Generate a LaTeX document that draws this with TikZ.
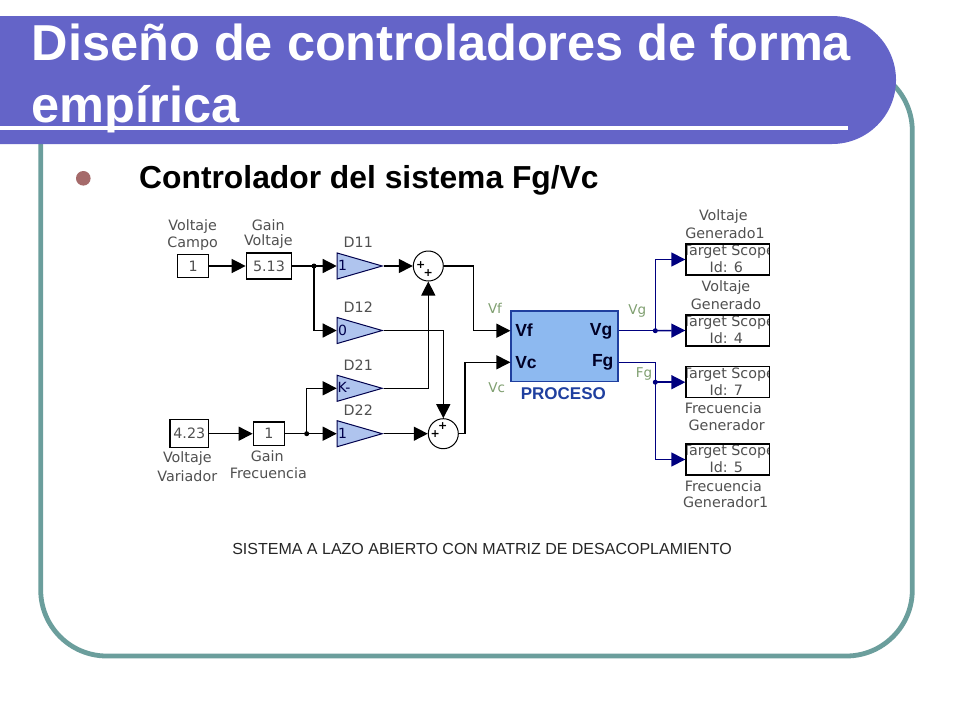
\documentclass[tikz,border=0pt]{standalone}
\usepackage{fontspec}
\setmainfont{Liberation Sans}
\newfontfamily\lblfont{DejaVu Sans}
\usetikzlibrary{arrows.meta,shapes.geometric}
\definecolor{band}{HTML}{6464C8}
\definecolor{frameteal}{HTML}{6B9E9C}
\definecolor{bulletc}{HTML}{A56A6A}
\definecolor{lblgray}{HTML}{505050}
\definecolor{lblgreen}{HTML}{7F9F70}
\definecolor{procfill}{HTML}{8DB9F0}
\definecolor{procline}{HTML}{1F3F9F}
\definecolor{navyline}{HTML}{00007F}
\definecolor{gainfill}{HTML}{AFC4EE}
\tikzset{
  lbl/.style={font=\lblfont\fontsize{14.3}{14}\selectfont,text=lblgray,inner sep=0pt},
  lblg/.style={font=\lblfont\fontsize{13.5}{14}\selectfont,text=lblgreen,inner sep=0pt},
  blockbox/.style={draw=black,line width=1.3pt,fill=white,inner sep=0pt,font=\lblfont\fontsize{14.3}{14}\selectfont,text=lblgray},
  gaintri/.style={draw=black!70!blue,line width=1pt,fill=gainfill,isosceles triangle,isosceles triangle stretches,minimum width=26pt,minimum height=45pt,inner sep=0pt,anchor=lower side},
  gainval/.style={font=\lblfont\fontsize{14}{14}\selectfont,text=black!70!blue,inner sep=0pt},
  sumnode/.style={draw=black,line width=1pt,fill=white,circle,minimum size=30pt,inner sep=0pt},
  sign/.style={font=\lblfont\bfseries\fontsize{11}{11}\selectfont,inner sep=0pt},
  wire/.style={line width=1.4pt,draw=black,-{Triangle[length=14pt,width=14pt]}},
  wireplain/.style={line width=1.4pt,draw=black},
  nwire/.style={line width=1.5pt,draw=navyline,-{Triangle[length=14pt,width=14pt]}},
  nwireplain/.style={line width=1.5pt,draw=navyline},
  dotk/.style={circle,fill=black,minimum size=5pt,inner sep=0pt},
  dotn/.style={circle,fill=navyline,minimum size=5pt,inner sep=0pt},
  portlbl/.style={font=\bfseries\fontsize{17.5}{18}\selectfont,text=black!85!blue,inner sep=0pt},
  scopebox/.style={draw=black,line width=1.3pt,fill=white,minimum width=83.7pt,minimum height=31pt,inner sep=0pt},
}
\newcommand{\scopetext}[1]{\node[lbl,anchor=center] at ([yshift=7.5pt,xshift=1pt]path picture bounding box.center) {Target Scope};\node[lbl,anchor=center] at ([yshift=-8pt,xshift=-1.5pt]path picture bounding box.center) {Id: #1};}
\begin{document}
\begin{tikzpicture}[x=1pt,y=-1pt]
\useasboundingbox (0,0) rectangle (960,720);
\fill[white] (0,0) rectangle (960,720);
% frame
\draw[frameteal,line width=4.8pt,rounded corners=66pt] (40.7,65) rectangle (912.3,656);
% title band
\fill[band] (0,16) -- (832,16) arc[start angle=90,end angle=-90,radius=64pt] -- (0,144) -- cycle;
\node[anchor=base west,inner sep=0pt,text=white,font=\bfseries\fontsize{50.5}{52}\selectfont] (t1) at (31.5,60.5) {Diseño de controladores de forma};
\node[anchor=base west,inner sep=0pt,text=white,font=\bfseries\fontsize{50.5}{52}\selectfont] (t2) at (31.5,122) {empírica};
\fill[white] (0,126) rectangle (848,130);
% bullet
\fill[bulletc] (83.3,178.3) circle[radius=7.3pt];
\node[anchor=base west,inner sep=0pt,font=\bfseries\fontsize{31.8}{33}\selectfont] (sub) at (139,188.3) {Controlador del sistema Fg/Vc};
% left diagram blocks
\node[blockbox,minimum width=31pt,minimum height=23.4pt] (b1) at (193.2,266) {1};
\node[blockbox,minimum width=45.4pt,minimum height=26pt] (gv) at (269,266) {5.13};
\node[gaintri] (d11) at (336.7,266) {};
\node[gaintri] (d12) at (336.7,330.5) {};
\node[gaintri] (d21) at (336.7,388.3) {};
\node[gaintri] (d22) at (336.7,433.7) {};
\node[gainval] at (342.5,265.5) {1};
\node[gainval] at (342.5,330) {0};
\node[gainval] at (344,387.5) {K-};
\node[gainval] at (342.5,433.2) {1};
\node[sumnode] (s1) at (428.3,266) {};
\node[sumnode] (s2) at (443.3,433.7) {};
\node[sign] at (420.7,265) {+};
\node[sign] at (428.3,273) {+};
\node[sign] at (435.3,434) {+};
\node[sign] at (442.7,426) {+};
\node[blockbox,minimum width=38.7pt,minimum height=28pt] (b2) at (189.3,433.7) {4.23};
\node[blockbox,minimum width=31.4pt,minimum height=23.7pt] (gf) at (269,433.7) {1};
\node[dotk] (j1) at (314,266) {};
\node[dotk] (j2) at (306.7,433.7) {};
% process
\node[draw=procline,line width=1.2pt,fill=procfill,minimum width=107pt,minimum height=70.7pt,inner sep=0pt] (proc) at (564.5,346.3) {};
\coordinate (pvf) at (proc.west |- 0,330.7);
\coordinate (pvc) at (proc.west |- 0,362.3);
\coordinate (pvg) at (proc.east |- 0,330.7);
\coordinate (pfg) at (proc.east |- 0,362.3);
\node[portlbl] at (524,330.5) {Vf};
\node[portlbl] at (526,362.5) {Vc};
\node[portlbl] at (601,331) {Vg};
\node[portlbl] at (602.7,362.5) {Fg};
\node[inner sep=0pt,font=\bfseries\fontsize{17}{18}\selectfont,text=procline] at (563.3,394) {PROCESO};
% scopes
\node[scopebox,path picture={\scopetext{6}}] (sc6) at (727.8,259.5) {};
\node[scopebox,path picture={\scopetext{4}}] (sc4) at (727.8,330.5) {};
\node[scopebox,path picture={\scopetext{7}}] (sc7) at (727.8,382.2) {};
\node[scopebox,path picture={\scopetext{5}}] (sc5) at (727.8,459.5) {};
\node[dotn] (j3) at (655.3,330.7) {};
\node[dotn] (j4) at (655.3,382.2) {};
\coordinate (k1) at (473.3,266);
\coordinate (k2) at (465,362.3);
\coordinate (k3) at (655.3,362.3);
% wires
\draw[wire] (b1.east) -- (gv.west);
\draw[wireplain] (gv.east) -- (j1.center);
\draw[wire] (j1.center) -- (d11.lower side);
\draw[wire] (j1.center) |- (d12.lower side);
\draw[wire] (d11.apex) -- (s1.west);
\draw[wire] (d12.apex) -| (s2.north);
\draw[wire] (d21.apex) -| (s1.south);
\draw[wire] (b2.east) -- (gf.west);
\draw[wireplain] (gf.east) -- (j2.center);
\draw[wire] (j2.center) |- (d21.lower side);
\draw[wire] (j2.center) -- (d22.lower side);
\draw[wire] (d22.apex) -- (s2.west);
\draw[wire] (s1.east) -- (k1) |- (pvf);
\draw[wire] (s2.east) -| (k2) -- (pvc);
\draw[nwireplain] (pvg) -- (j3.center);
\draw[nwire] (j3.center) |- (sc6.west);
\draw[nwire] (j3.center) -- (sc4.west);
\draw[nwireplain] (pfg) -- (k3) -- (j4.center);
\draw[nwire] (j4.center) -- (sc7.west);
\draw[nwire] (j4.center) |- (sc5.west);
% labels
\node[lbl] at (192.7,226.7) {Voltaje};
\node[lbl] at (192.7,243.3) {Campo};
\node[lbl] at (268.3,225) {Gain};
\node[lbl] at (268.3,241.7) {Voltaje};
\node[lbl] at (358.3,242.3) {D11};
\node[lbl] at (358.3,306.7) {D12};
\node[lbl] at (358.3,365) {D21};
\node[lbl] at (358.3,410) {D22};
\node[lbl] at (187.3,459) {Voltaje};
\node[lbl] at (187.3,475.7) {Variador};
\node[lbl] at (267.3,455.7) {Gain};
\node[lbl] at (268.3,472.7) {Frecuencia};
\node[lbl] at (723.3,216.7) {Voltaje};
\node[lbl] at (725,233.3) {Generado1};
\node[lbl] at (726,287.3) {Voltaje};
\node[lbl] at (726,304) {Generado};
\node[lbl] at (723.3,408.3) {Frecuencia};
\node[lbl] at (726.7,425) {Generador};
\node[lbl] at (723.3,485.7) {Frecuencia};
\node[lbl] at (725.7,502.3) {Generador1};
\node[lblg] at (495,308.3) {Vf};
\node[lblg] at (496.7,387.7) {Vc};
\node[lblg] at (637.3,310.7) {Vg};
\node[lblg] at (644,374) {Fg};
% caption
\node[inner sep=0pt,font=\fontsize{16}{16}\selectfont,text=black!85] (cap) at (482,549) {SISTEMA A LAZO ABIERTO CON MATRIZ DE DESACOPLAMIENTO};
\end{tikzpicture}
\end{document}
